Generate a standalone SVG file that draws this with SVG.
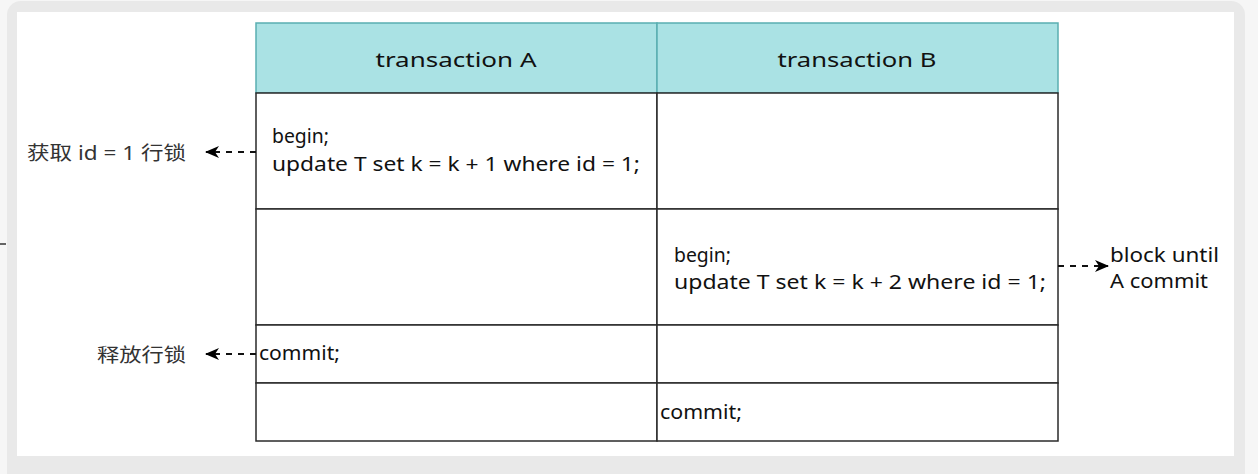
<svg xmlns="http://www.w3.org/2000/svg" width="1258" height="474" viewBox="0 0 1258 474">
  <defs>
    <marker id="arrow" viewBox="0 0 14 12" refX="13" refY="6" markerWidth="14" markerHeight="12" markerUnits="userSpaceOnUse" orient="auto">
      <path d="M0,0 L14,6 L0,12 L4,6 Z" fill="#000"/>
    </marker>
  </defs>
  <style>
    .cell { fill: #ffffff; stroke: #2a2a2a; stroke-width: 1.5; }
    .head { fill: #aae2e4; stroke: #5aaeb1; stroke-width: 1.5; }
    .t { font-family: "Noto Sans", "DejaVu Sans", sans-serif; fill: #111; font-size: 19px; }
    .ht { font-size: 20px; text-anchor: middle; }
    .lbl { font-family: "Noto Sans", "Noto Sans CJK SC", sans-serif; font-size: 19px; fill: #333; }
    .conn { stroke: #111; stroke-width: 2.2; stroke-dasharray: 6 6; fill: none; marker-end: url(#arrow); }
  </style>

  <!-- page background and frame -->
  <rect x="0" y="0" width="1258" height="474" fill="#f6f6f6"/>
  <rect x="7" y="1" width="1238" height="490" rx="14" fill="#e9e9e9"/>
  <rect x="17" y="12" width="1217" height="444" fill="#ffffff"/>
  <line x1="0" y1="244" x2="6" y2="244" stroke="#333" stroke-width="1.5"/>

  <!-- header row -->
  <g id="header-a">
    <rect class="head" x="256" y="23" width="401" height="70"/>
    <text class="t ht" x="456" y="67" textLength="161" lengthAdjust="spacingAndGlyphs">transaction A</text>
  </g>
  <g id="header-b">
    <rect class="head" x="657" y="23" width="401" height="70"/>
    <text class="t ht" x="857" y="67" textLength="159" lengthAdjust="spacingAndGlyphs">transaction B</text>
  </g>

  <!-- step 1 -->
  <g id="a-step1">
    <rect class="cell" x="256" y="93" width="401" height="116"/>
    <text class="t" x="272" y="143" textLength="57" lengthAdjust="spacingAndGlyphs">begin;</text>
    <text class="t" x="272" y="171" textLength="368" lengthAdjust="spacingAndGlyphs">update T set k = k + 1 where id = 1;</text>
  </g>
  <g id="b-step1">
    <rect class="cell" x="657" y="93" width="401" height="116"/>
  </g>

  <!-- step 2 -->
  <g id="a-step2">
    <rect class="cell" x="256" y="209" width="401" height="116"/>
  </g>
  <g id="b-step2">
    <rect class="cell" x="657" y="209" width="401" height="116"/>
    <text class="t" x="674" y="262" textLength="57" lengthAdjust="spacingAndGlyphs">begin;</text>
    <text class="t" x="674" y="289" textLength="372" lengthAdjust="spacingAndGlyphs">update T set k = k + 2 where id = 1;</text>
  </g>

  <!-- step 3 -->
  <g id="a-step3">
    <rect class="cell" x="256" y="325" width="401" height="58"/>
    <text class="t" x="259" y="360" textLength="81" lengthAdjust="spacingAndGlyphs">commit;</text>
  </g>
  <g id="b-step3">
    <rect class="cell" x="657" y="325" width="401" height="58"/>
  </g>

  <!-- step 4 -->
  <g id="a-step4">
    <rect class="cell" x="256" y="383" width="401" height="58"/>
  </g>
  <g id="b-step4">
    <rect class="cell" x="657" y="383" width="401" height="58"/>
    <text class="t" x="660" y="419" textLength="82" lengthAdjust="spacingAndGlyphs">commit;</text>
  </g>

  <!-- side notes -->
  <g id="note-lock">
    <text class="lbl" x="27" y="160" textLength="159" lengthAdjust="spacingAndGlyphs">获取 id = 1 行锁</text>
  </g>
  <g id="note-release">
    <text class="lbl" x="97" y="362" textLength="89" lengthAdjust="spacingAndGlyphs">释放行锁</text>
  </g>
  <g id="note-block">
    <text class="t" x="1110" y="262" textLength="109" lengthAdjust="spacingAndGlyphs">block until</text>
    <text class="t" x="1110" y="288" textLength="98" lengthAdjust="spacingAndGlyphs">A commit</text>
  </g>

  <!-- connectors -->
  <g id="connectors">
    <path class="conn" d="M256,152 L206,152"/>
    <path class="conn" d="M256,354 L206,354"/>
    <path class="conn" d="M1058,266 L1108,266"/>
  </g>
</svg>
